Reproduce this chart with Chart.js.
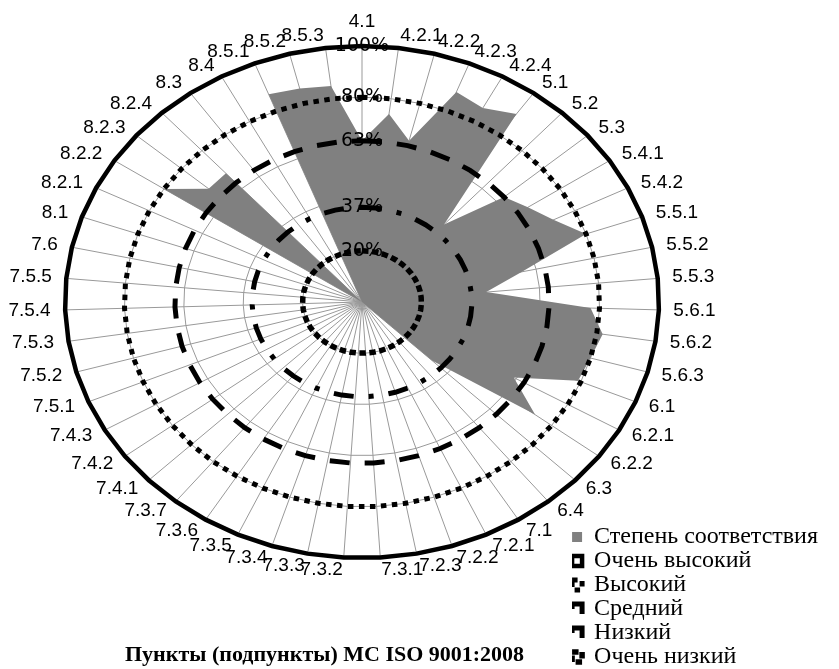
<!DOCTYPE html>
<html lang="ru">
<head>
<meta charset="utf-8">
<title>Степень соответствия пунктам ISO 9001:2008</title>
<script src="https://cdn.jsdelivr.net/npm/chart.js@4/dist/chart.umd.min.js"></script>
<style>
  html, body { margin: 0; padding: 0; background: #ffffff; }
  #wrap { width: 839px; height: 669px; }
</style>
</head>
<body>
<div id="wrap"><canvas id="chart" width="839" height="669"></canvas></div>
<script>
// Clauses (sub-clauses) of ISO 9001:2008, clockwise from the top
const clauses = [
  '4.1', '4.2.1', '4.2.2', '4.2.3', '4.2.4',
  '5.1', '5.2', '5.3', '5.4.1', '5.4.2', '5.5.1', '5.5.2', '5.5.3', '5.6.1', '5.6.2', '5.6.3',
  '6.1', '6.2.1', '6.2.2', '6.3', '6.4',
  '7.1', '7.2.1', '7.2.2', '7.2.3', '7.3.1', '7.3.2', '7.3.3', '7.3.4', '7.3.5', '7.3.6', '7.3.7',
  '7.4.1', '7.4.2', '7.4.3', '7.5.1', '7.5.2', '7.5.3', '7.5.4', '7.5.5', '7.6',
  '8.1', '8.2.1', '8.2.2', '8.2.3', '8.2.4', '8.3', '8.4', '8.5.1', '8.5.2', '8.5.3'
];

// Degree of conformity for each clause, %
const conformity = [
  63, 74, 65, 88, 86,
  90, 41, 63, 67, 72, 80, 55, 42, 77, 82, 80,
  79, 59, 73, 33, 0,
  0, 0, 0, 0, 0, 0, 0, 0, 0, 0, 0,
  0, 0, 0, 0, 0, 0, 0, 0, 0,
  0, 0, 80, 68, 68, 0, 0, 87, 86, 85
];

// Assessment levels drawn as reference rings, %
const levelNames = ['Очень высокий', 'Высокий', 'Средний', 'Низкий', 'Очень низкий'];
const levelValues = [100, 80, 63, 37, 20];

// Value-axis labels and gray grid rings, %
const axisLabelValues = [0, 20, 37, 63, 80, 100];
const gridValues = [20, 40, 60, 80];

// Stroke style of each level ring
const levelStyles = [
  { borderWidth: 4.5, borderDash: [] },
  { borderWidth: 5, borderDash: [5.5, 5.5] },
  { borderWidth: 5, borderDash: [20, 15] },
  { borderWidth: 5, borderDash: [20, 15, 5, 15] },
  { borderWidth: 5.5, borderDash: [6.5, 3.5] }
];

// Plot frame: centre and the two semi-axes of the (elliptical) radar
const plotFrame = { cx: 362, cy: 302, rx: 297, ry: 256 };

// Radial scale drawn as an ellipse: fixed centre/radius, x offsets stretched
const RadialProto = Chart.RadialLinearScale.prototype;
const baseSetCenterPoint = RadialProto.setCenterPoint;
RadialProto.setCenterPoint = function (l, r, t, b) {
  baseSetCenterPoint.call(this, l, r, t, b);
  this.xCenter = plotFrame.cx;
  this.yCenter = plotFrame.cy;
  this.drawingArea = plotFrame.ry;
};
const baseGetPointPosition = RadialProto.getPointPosition;
RadialProto.getPointPosition = function (index, distance, angleOffset) {
  const p = baseGetPointPosition.call(this, index, distance, angleOffset);
  p.x = this.xCenter + (p.x - this.xCenter) * plotFrame.rx / plotFrame.ry;
  return p;
};

// Side labels are centred vertically on their anchor point
function centreSideLabels(scale) {
  const items = scale._pointLabelItems;
  if (!items) return;
  const n = scale._pointLabels.length;
  items.forEach((item, i) => {
    if (item.textAlign === 'center') return;
    const deg = Math.round(i * 360 / n) % 360;
    const h = item.bottom - item.top;
    let py;
    if (deg === 90 || deg === 270) py = item.top + h / 2;
    else if (deg < 90 || deg > 270) py = item.top + h;
    else py = item.top;
    item.top = item.y = py - h / 2;
    item.bottom = item.top + h;
  });
}

// The radar may reach under the legend column: let fills use the whole canvas
const fullPlotArea = {
  id: 'fullPlotArea',
  afterLayout(chart) {
    const a = chart.chartArea;
    a.left = 0; a.top = 0;
    a.right = chart.width; a.bottom = chart.height;
    a.width = chart.width; a.height = chart.height;
  }
};

const tickValues = [...new Set([...axisLabelValues, ...gridValues])].sort((a, b) => a - b);

const datasets = [
  {
    label: 'Степень соответствия',
    data: conformity,
    fill: true,
    backgroundColor: '#808080',
    borderColor: 'rgba(0,0,0,0)',
    borderWidth: 0,
    pointRadius: 0,
    clip: false,
    order: 1
  },
  ...levelNames.map((name, k) => ({
    label: name,
    data: clauses.map(() => levelValues[k]),
    fill: false,
    backgroundColor: '#ffffff',
    borderColor: '#000000',
    borderWidth: levelStyles[k].borderWidth,
    borderDash: levelStyles[k].borderDash,
    borderCapStyle: 'butt',
    borderJoinStyle: 'miter',
    pointRadius: 0,
    clip: false,
    order: 0
  }))
];

Chart.defaults.font.family = 'Liberation Sans';
Chart.defaults.color = '#000000';

new Chart(document.getElementById('chart'), {
  type: 'radar',
  data: { labels: clauses, datasets },
  plugins: [fullPlotArea],
  options: {
    responsive: false,
    animation: false,
    devicePixelRatio: 1,
    events: [],
    layout: { padding: { left: 77, right: 11, top: 0, bottom: 0 } },
    elements: { line: { tension: 0 } },
    scales: {
      r: {
        min: 0,
        max: 100,
        beginAtZero: true,
        startAngle: 0,
        afterBuildTicks: (scale) => { scale.ticks = tickValues.map(v => ({ value: v })); },
        afterFit: centreSideLabels,
        grid: {
          color: (ctx) => (ctx.tick && gridValues.includes(ctx.tick.value)) ? '#999999' : 'rgba(0,0,0,0)',
          lineWidth: 1
        },
        angleLines: { color: '#999999', lineWidth: 1 },
        ticks: {
          z: 1,
          color: '#000000',
          font: { family: 'DejaVu Sans', size: 19 },
          showLabelBackdrop: false,
          backdropPadding: 0,
          callback: (v) => axisLabelValues.includes(v) ? v + '%' : ''
        },
        pointLabels: {
          color: '#000000',
          font: { family: 'Liberation Sans', size: 19 },
          padding: 3
        }
      }
    },
    plugins: {
      tooltip: { enabled: false },
      legend: {
        position: 'right',
        align: 'end',
        labels: {
          sort: (a, b) => a.datasetIndex - b.datasetIndex,
          color: '#000000',
          font: { family: 'Liberation Serif', size: 24 },
          boxWidth: 10,
          boxHeight: 10,
          padding: 0
        }
      },
      title: {
        display: true,
        text: 'Пункты (подпункты) МС ISO 9001:2008',
        position: 'bottom',
        fullSize: false,
        color: '#000000',
        font: { family: 'Liberation Serif', size: 22, weight: 'bold' },
        padding: { top: 0, bottom: 0 }
      }
    }
  }
});
</script>
</body>
</html>
